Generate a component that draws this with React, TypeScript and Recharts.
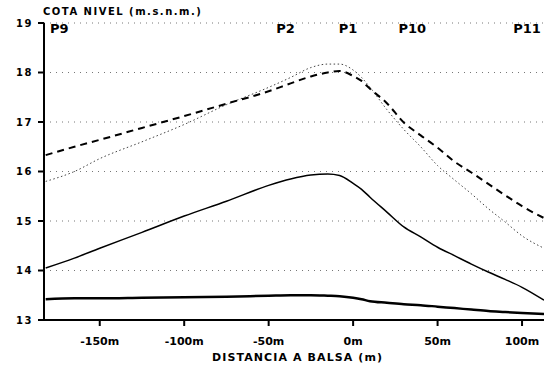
import { CartesianGrid, Line, LineChart, ReferenceLine, XAxis, YAxis } from "recharts";

// distance to the pond (m) and water levels (m.s.n.m.)
const distances = [-182, -165, -150, -125, -100, -75, -50, -37, -25, -15, -8, 0, 5, 10, 20, 30, 40, 50, 60, 70, 80, 90, 100, 113];
const dashedLevel = [16.33, 16.5, 16.64, 16.88, 17.12, 17.37, 17.62, 17.78, 17.92, 18.0, 18.03, 17.93, 17.83, 17.67, 17.38, 16.99, 16.73, 16.48, 16.2, 15.98, 15.75, 15.52, 15.3, 15.06];
const dottedLevel = [15.8, 16.0, 16.26, 16.6, 16.95, 17.35, 17.7, 17.9, 18.1, 18.17, 18.17, 18.05, 17.9, 17.7, 17.25, 16.85, 16.5, 16.12, 15.83, 15.55, 15.25, 14.98, 14.7, 14.45];
const thinLevel = [14.05, 14.25, 14.45, 14.77, 15.1, 15.4, 15.72, 15.85, 15.93, 15.95, 15.92, 15.76, 15.64, 15.48, 15.18, 14.88, 14.68, 14.47, 14.3, 14.13, 13.97, 13.82, 13.66, 13.4];
const baseLevel = [13.42, 13.44, 13.44, 13.45, 13.46, 13.47, 13.49, 13.5, 13.5, 13.49, 13.48, 13.45, 13.42, 13.38, 13.35, 13.32, 13.3, 13.27, 13.24, 13.21, 13.18, 13.16, 13.14, 13.12];

const profileNames = ["P9", "P2", "P1", "P10", "P11"];
const profileDistances = [-174, -40, -3, 35, 103];

const xTicks = [-150, -100, -50, 0, 50, 100];
const yTicks = [13, 14, 15, 16, 17, 18, 19];

const data = distances.map((x, i) => ({
  x,
  dashed: dashedLevel[i],
  dotted: dottedLevel[i],
  thin: thinLevel[i],
  base: baseLevel[i],
}));

const font = "'DejaVu Sans', sans-serif";

export default function App() {
  return (
    <div style={{ position: "absolute", left: 0, top: 0, width: 548, height: 371, background: "#fff", fontFamily: font }}>
      <div
        style={{
          position: "absolute",
          left: 43,
          top: 6,
          fontSize: 10,
          fontWeight: "bold",
          letterSpacing: 1.5,
          lineHeight: "12px",
          whiteSpace: "nowrap",
        }}
      >
        COTA NIVEL (m.s.n.m.)
      </div>
      <LineChart width={548} height={371} data={data} margin={{ top: 23, right: 4, bottom: 21, left: 0 }}>
        <CartesianGrid vertical={false} stroke="#777" strokeDasharray="1 5" />
        <XAxis
          dataKey="x"
          type="number"
          domain={[-183, 113]}
          ticks={xTicks}
          tickFormatter={(v) => `${v}m`}
          height={30}
          stroke="#000"
          strokeWidth={2}
          tickSize={6}
          tickMargin={11}
          tick={{ fontSize: 11, fontWeight: "bold", fill: "#000", fontFamily: font }}
          allowDataOverflow
        />
        <XAxis
          xAxisId="top"
          orientation="top"
          dataKey="x"
          type="number"
          domain={[-183, 113]}
          height={0}
          tick={false}
          tickLine={false}
          stroke="#000"
          strokeWidth={1.5}
          allowDataOverflow
        />
        <YAxis
          type="number"
          domain={[13, 19]}
          ticks={yTicks}
          width={44}
          stroke="#000"
          strokeWidth={2}
          tickSize={6}
          tickMargin={5}
          tick={{ fontSize: 10, fontWeight: "bold", fill: "#000", fontFamily: font, letterSpacing: 1.5 }}
          allowDataOverflow
        />
        <YAxis
          yAxisId="right"
          orientation="right"
          type="number"
          domain={[13, 19]}
          width={0}
          tick={false}
          tickLine={false}
          stroke="#000"
          strokeWidth={2.5}
        />
        {profileNames.map((name, i) => (
          <ReferenceLine
            key={name}
            x={profileDistances[i]}
            stroke="none"
            label={{ value: name, position: "insideTop", offset: 1, fontSize: 13, fontWeight: "bold", fill: "#000", fontFamily: font }}
          />
        ))}
        <Line type="monotone" dataKey="dotted" stroke="#444" strokeWidth={1} strokeDasharray="1.5 2.5" dot={false} isAnimationActive={false} />
        <Line type="monotone" dataKey="dashed" stroke="#000" strokeWidth={2} strokeDasharray="7 5" dot={false} isAnimationActive={false} />
        <Line type="monotone" dataKey="thin" stroke="#000" strokeWidth={1.5} dot={false} isAnimationActive={false} />
        <Line type="monotone" dataKey="base" stroke="#000" strokeWidth={2.5} dot={false} isAnimationActive={false} />
      </LineChart>
      <div
        style={{
          position: "absolute",
          left: 212,
          top: 351,
          fontSize: 11,
          fontWeight: "bold",
          letterSpacing: 1.1,
          lineHeight: "13px",
          whiteSpace: "nowrap",
        }}
      >
        DISTANCIA A BALSA (m)
      </div>
    </div>
  );
}
